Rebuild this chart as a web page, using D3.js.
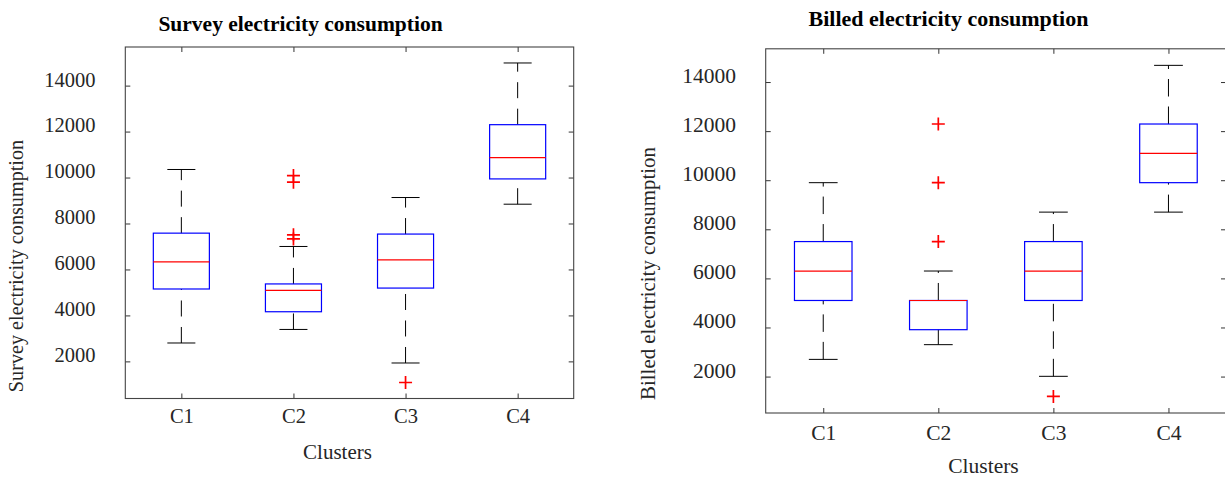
<!DOCTYPE html>
<html>
<head>
<meta charset="utf-8">
<script src="https://cdn.jsdelivr.net/npm/d3@7"></script>
<style>
  body { margin: 0; background: #fff; }
  svg { display: block; font-family: "Liberation Serif", "Times New Roman", serif; }
</style>
</head>
<body>
<svg id="chart"></svg>
<script>
const w = 1225;
const h = 477;

const clusters = ["C1", "C2", "C3", "C4"];
const yTicks = [2000, 4000, 6000, 8000, 10000, 12000, 14000];

// survey panel
const surveyLower = [2800, 3390, 1930, 8840];
const surveyQ1 = [5150, 4160, 5190, 9940];
const surveyMedian = [6330, 5090, 6420, 10870];
const surveyQ3 = [7580, 5370, 7540, 12300];
const surveyUpper = [10350, 7000, 9130, 14985];
const surveyOutliers = [[], [10085, 9800, 7505, 7330], [1080], []];

// billed panel
const billedLower = [2700, 3300, 2010, 8700];
const billedQ1 = [5100, 3910, 5100, 9900];
const billedMedian = [6300, 5100, 6300, 11090];
const billedQ3 = [7500, 5100, 7500, 12290];
const billedUpper = [9900, 6300, 8700, 14680];
const billedOutliers = [[], [12290, 9900, 7500], [1190], []];

const svg = d3.select("#chart")
  .attr("width", w)
  .attr("height", h);

const panels = [
  {
    title: "Survey electricity consumption",
    yLabel: "Survey electricity consumption",
    lower: surveyLower, q1: surveyQ1, median: surveyMedian, q3: surveyQ3, upper: surveyUpper,
    outliers: surveyOutliers,
    x0: 125.3, x1: 573.7, y0: 47, y1: 398.5,
    titleX: 300.5, titleY: 30.7, titleSize: 21.5,
    tickFont: 20.5, xTickPad: 10,
    xLabelX: 337.5, xLabelY: 459, xLabelSize: 21,
    yLabelX: 23.4, yLabelY: 266, yLabelSize: 20.2,
    dash: "16,10.5"
  },
  {
    title: "Billed electricity consumption",
    yLabel: "Billed electricity consumption",
    lower: billedLower, q1: billedQ1, median: billedMedian, q3: billedQ3, upper: billedUpper,
    outliers: billedOutliers,
    x0: 765.7, x1: 1226, y0: 48.8, y1: 413,
    titleX: 948.5, titleY: 26, titleSize: 22,
    tickFont: 21.5, xTickPad: 11.7,
    xLabelX: 983.5, xLabelY: 472.5, xLabelSize: 21.5,
    yLabelX: 655.3, yLabelY: 273.5, yLabelSize: 20.9,
    dash: "17.5,10"
  }
];

panels.forEach(drawPanel);

function drawPanel(p) {
  const allValues = p.lower.concat(p.upper, p.outliers.flat());
  const lo = d3.min(allValues);
  const hi = d3.max(allValues);
  const pad = (hi - lo) * 0.05;

  const x = d3.scalePoint()
    .domain(clusters)
    .range([p.x0, p.x1])
    .padding(0.5);

  const y = d3.scaleLinear()
    .domain([lo - pad, hi + pad])
    .range([p.y1, p.y0]);

  const g = svg.append("g");
  const boxW = x.step() * 0.5;
  const capW = x.step() * 0.25;

  // axes (ticks point inward)
  const left = g.append("g")
    .attr("transform", `translate(${p.x0},0)`)
    .call(d3.axisLeft(y)
      .tickValues(yTicks)
      .tickFormat(d3.format("d"))
      .tickSizeInner(-5)
      .tickSizeOuter(0)
      .tickPadding(29.8));
  left.selectAll("text").attr("dy", "0.02em");

  g.append("g")
    .attr("transform", `translate(${p.x1},0)`)
    .call(d3.axisRight(y).tickValues(yTicks).tickSizeInner(-5).tickSizeOuter(0).tickFormat(""));

  g.append("g")
    .attr("transform", `translate(0,${p.y1})`)
    .call(d3.axisBottom(x).tickSizeInner(-5).tickSizeOuter(0).tickPadding(p.xTickPad));

  g.append("g")
    .attr("transform", `translate(0,${p.y0})`)
    .call(d3.axisTop(x).tickSizeInner(-5).tickSizeOuter(0).tickFormat(""));

  g.selectAll(".domain").remove();
  g.selectAll(".tick line").attr("stroke", "#333");
  g.selectAll(".tick text")
    .attr("fill", "#262626")
    .style("font-family", "'Liberation Serif', 'Times New Roman', serif")
    .style("font-size", p.tickFont + "px");

  g.append("rect")
    .attr("x", p.x0)
    .attr("y", p.y0)
    .attr("width", p.x1 - p.x0)
    .attr("height", p.y1 - p.y0)
    .attr("fill", "none")
    .attr("stroke", "#444")
    .attr("stroke-width", 1.1);

  const idx = d3.range(clusters.length);
  const boxes = g.selectAll(".box")
    .data(idx)
    .enter()
    .append("g")
    .attr("class", "box");

  // lower whisker, drawn from the adjacent value up to the box
  boxes.append("line")
    .attr("x1", i => x(clusters[i]))
    .attr("x2", i => x(clusters[i]))
    .attr("y1", i => y(p.lower[i]))
    .attr("y2", i => y(p.q1[i]))
    .attr("stroke", "#000")
    .attr("stroke-dasharray", p.dash);

  boxes.append("line")
    .attr("x1", i => x(clusters[i]))
    .attr("x2", i => x(clusters[i]))
    .attr("y1", i => y(p.q3[i]))
    .attr("y2", i => y(p.upper[i]))
    .attr("stroke", "#000")
    .attr("stroke-dasharray", p.dash);

  // caps
  boxes.append("line")
    .attr("x1", i => x(clusters[i]) - capW / 2)
    .attr("x2", i => x(clusters[i]) + capW / 2)
    .attr("y1", i => y(p.lower[i]))
    .attr("y2", i => y(p.lower[i]))
    .attr("stroke", "#000");

  boxes.append("line")
    .attr("x1", i => x(clusters[i]) - capW / 2)
    .attr("x2", i => x(clusters[i]) + capW / 2)
    .attr("y1", i => y(p.upper[i]))
    .attr("y2", i => y(p.upper[i]))
    .attr("stroke", "#000");

  boxes.append("rect")
    .attr("x", i => x(clusters[i]) - boxW / 2)
    .attr("y", i => y(p.q3[i]))
    .attr("width", boxW)
    .attr("height", i => y(p.q1[i]) - y(p.q3[i]))
    .attr("fill", "none")
    .attr("stroke", "#0000ff")
    .attr("stroke-width", 1.2);

  boxes.append("line")
    .attr("x1", i => x(clusters[i]) - boxW / 2)
    .attr("x2", i => x(clusters[i]) + boxW / 2)
    .attr("y1", i => y(p.median[i]))
    .attr("y2", i => y(p.median[i]))
    .attr("stroke", "#ff0000")
    .attr("stroke-width", 1.2);

  // outliers as red plus signs
  const outs = idx.flatMap(i => p.outliers[i].map(v => ({ c: clusters[i], v })));
  g.selectAll(".outlier")
    .data(outs)
    .enter()
    .append("path")
    .attr("class", "outlier")
    .attr("d", d => {
      const cx = x(d.c), cy = y(d.v);
      return `M${cx - 6.5},${cy}H${cx + 6.5}M${cx},${cy - 6.5}V${cy + 6.5}`;
    })
    .attr("stroke", "#ff0000")
    .attr("stroke-width", 1.7)
    .attr("fill", "none");

  // labels
  g.append("text")
    .attr("x", p.titleX)
    .attr("y", p.titleY)
    .attr("text-anchor", "middle")
    .attr("font-weight", "bold")
    .attr("font-size", p.titleSize)
    .attr("fill", "#000")
    .text(p.title);

  g.append("text")
    .attr("x", p.xLabelX)
    .attr("y", p.xLabelY)
    .attr("text-anchor", "middle")
    .attr("font-size", p.xLabelSize)
    .attr("fill", "#262626")
    .text("Clusters");

  g.append("text")
    .attr("transform", `translate(${p.yLabelX},${p.yLabelY}) rotate(-90)`)
    .attr("text-anchor", "middle")
    .attr("font-size", p.yLabelSize)
    .attr("fill", "#262626")
    .text(p.yLabel);
}
</script>
</body>
</html>
